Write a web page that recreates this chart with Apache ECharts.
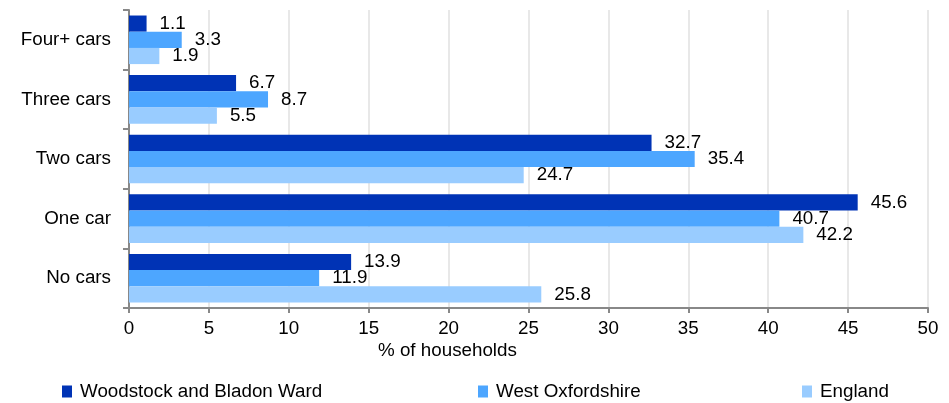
<!DOCTYPE html>
<html><head><meta charset="utf-8">
<script src="https://cdn.jsdelivr.net/npm/echarts@6/dist/echarts.min.js"></script>
<style>html,body{margin:0;padding:0;background:#fff}#c{width:949px;height:403px}</style>
</head><body><div id="c"></div>
<script>
const categories = ['No cars', 'One car', 'Two cars', 'Three cars', 'Four+ cars'];
const seriesNames = ['Woodstock and Bladon Ward', 'West Oxfordshire', 'England'];
const woodstock = [13.9, 45.6, 32.7, 6.7, 1.1];
const westOxon = [11.9, 40.7, 35.4, 8.7, 3.3];
const england = [25.8, 42.2, 24.7, 5.5, 1.9];
const xTicks = [0, 5, 10, 15, 20, 25, 30, 35, 40, 45, 50];
const colors = ['#0033B5', '#4DA6FF', '#99CCFF'];
const font = 'Liberation Sans, Arial, sans-serif';
const fs = 18.8;

const chart = echarts.init(document.getElementById('c'), null, {renderer: 'canvas'});
const values = [woodstock, westOxon, england];
const legendX = [62, 478, 802];
chart.setOption({
  animation: false,
  grid: {left: 129, right: 21, top: 10, bottom: 95, containLabel: false},
  xAxis: {
    type: 'value', min: xTicks[0], max: xTicks[xTicks.length - 1], interval: 5,
    axisLine: {show: true, lineStyle: {color: '#888', width: 2}},
    axisTick: {show: true, length: 5, lineStyle: {color: '#888', width: 2}},
    splitLine: {show: true, lineStyle: {color: '#e8e8e8', width: 2}},
    axisLabel: {color: '#000', fontSize: fs, fontFamily: font, margin: 11}
  },
  yAxis: {
    type: 'category', data: categories,
    axisLine: {show: true, lineStyle: {color: '#888', width: 2}},
    axisTick: {show: true, length: 6, lineStyle: {color: '#888', width: 2}},
    axisLabel: {color: '#000', fontSize: fs, fontFamily: font, margin: 18}
  },
  graphic: [{type: 'text', left: 378, top: 341, style: {text: '% of households', fill: '#000', font: fs + 'px ' + font}}],
  legend: seriesNames.map((n, i) => ({
    data: [n], left: legendX[i], top: 382, padding: 0, icon: 'rect', itemWidth: 10, itemHeight: 12, itemGap: 8,
    textStyle: {color: '#000', fontSize: fs, fontFamily: font, padding: [0, 0, 0, 3]}, selectedMode: false
  })),
  series: seriesNames.map((n, i) => ({
    name: n, type: 'bar', data: values[i], barGap: '0%', barCategoryGap: '18.5%',
    itemStyle: {color: colors[i]},
    label: {show: true, position: 'right', distance: 13, color: '#000', fontSize: fs, fontFamily: font,
      formatter: p => p.value.toFixed(1)}
  }))
});
</script></body></html>
